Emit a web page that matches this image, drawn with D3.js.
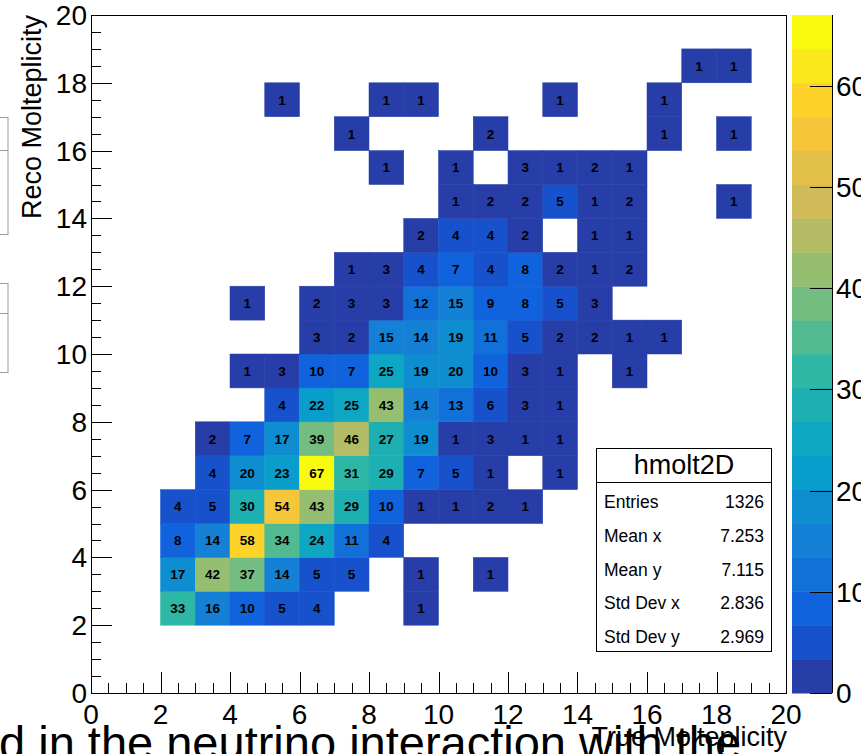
<!DOCTYPE html>
<meta charset='utf-8'>
<style>
  body { margin: 0; background: #fff; }
  svg { display: block; font-family: 'Liberation Sans', Arial, sans-serif; }
  .cell-text { font-size: 13.5px; font-weight: bold; fill: #000; }
  .tick-label { font-size: 28px; fill: #000; }
  .axis-title { font-size: 27px; fill: #000; }
</style>
<body>
<script src='https://d3js.org/d3.v7.min.js'></script>
<script>
  // bin contents, counts[j][i] = entries in x bin [i,i+1), y bin [j,j+1)
  const counts = [
    /* y 0 */ [0,0,0,0,0,0,0,0,0,0,0,0,0,0,0,0,0,0,0,0],
    /* y 1 */ [0,0,0,0,0,0,0,0,0,0,0,0,0,0,0,0,0,0,0,0],
    /* y 2 */ [0,0,33,16,10,5,4,0,0,1,0,0,0,0,0,0,0,0,0,0],
    /* y 3 */ [0,0,17,42,37,14,5,5,0,1,0,1,0,0,0,0,0,0,0,0],
    /* y 4 */ [0,0,8,14,58,34,24,11,4,0,0,0,0,0,0,0,0,0,0,0],
    /* y 5 */ [0,0,4,5,30,54,43,29,10,1,1,2,1,0,0,0,0,0,0,0],
    /* y 6 */ [0,0,0,4,20,23,67,31,29,7,5,1,0,1,0,0,0,0,0,0],
    /* y 7 */ [0,0,0,2,7,17,39,46,27,19,1,3,1,1,0,0,0,0,0,0],
    /* y 8 */ [0,0,0,0,0,4,22,25,43,14,13,6,3,1,0,0,0,0,0,0],
    /* y 9 */ [0,0,0,0,1,3,10,7,25,19,20,10,3,1,0,1,0,0,0,0],
    /* y10 */ [0,0,0,0,0,0,3,2,15,14,19,11,5,2,2,1,1,0,0,0],
    /* y11 */ [0,0,0,0,1,0,2,3,3,12,15,9,8,5,3,0,0,0,0,0],
    /* y12 */ [0,0,0,0,0,0,0,1,3,4,7,4,8,2,1,2,0,0,0,0],
    /* y13 */ [0,0,0,0,0,0,0,0,0,2,4,4,2,0,1,1,0,0,0,0],
    /* y14 */ [0,0,0,0,0,0,0,0,0,0,1,2,2,5,1,2,0,0,1,0],
    /* y15 */ [0,0,0,0,0,0,0,0,1,0,1,0,3,1,2,1,0,0,0,0],
    /* y16 */ [0,0,0,0,0,0,0,1,0,0,0,2,0,0,0,0,1,0,1,0],
    /* y17 */ [0,0,0,0,0,1,0,0,1,1,0,0,0,1,0,0,1,0,0,0],
    /* y18 */ [0,0,0,0,0,0,0,0,0,0,0,0,0,0,0,0,0,1,1,0],
    /* y19 */ [0,0,0,0,0,0,0,0,0,0,0,0,0,0,0,0,0,0,0,0]
  ]

  const axisTicks = [0, 2, 4, 6, 8, 10, 12, 14, 16, 18, 20]
  const zTicks = [0, 10, 20, 30, 40, 50, 60]
  const zMax = 67
  const nLevels = 20

  const statTitle = 'hmolt2D'
  const statNames = ['Entries', 'Mean x', 'Mean y', 'Std Dev x', 'Std Dev y']
  const statValues = ['1326', '7.253', '7.115', '2.836', '2.969']

  const xTitle = 'True Molteplicity'
  const yTitle = 'Reco Molteplicity'
  const pageText = 'd in the neutrino interaction with the'

  // ROOT kBird palette
  const birdStops = [0.0, 0.125, 0.25, 0.375, 0.5, 0.625, 0.75, 0.875, 1.0]
  const birdR = [0.2082, 0.0592, 0.0780, 0.0232, 0.1802, 0.5301, 0.8186, 0.9956, 0.9764]
  const birdG = [0.1664, 0.3599, 0.5041, 0.6419, 0.7178, 0.7492, 0.7328, 0.7862, 0.9832]
  const birdB = [0.5293, 0.8684, 0.8385, 0.7914, 0.6425, 0.4662, 0.3499, 0.1968, 0.0539]
  const toByte = v => Math.round(v * 255)
  const bird = t => {
    const s = d3.scaleLinear().domain(birdStops).clamp(true)
    const r = s.copy().range(birdR)(t), g = s.copy().range(birdG)(t), b = s.copy().range(birdB)(t)
    return `rgb(${toByte(r)},${toByte(g)},${toByte(b)})`
  }
  const levelColors = d3.range(nLevels).map(i => bird(Math.floor((i + 0.99) * 255 / nLevels) / 254))
  const zLevel = d3.scaleQuantize().domain([0, zMax]).range(d3.range(nLevels))
  const color = v => levelColors[Math.min(nLevels - 1, zLevel(v))]

  const W = 861, H = 754
  const frame = {left: 91, right: 786, top: 15, bottom: 693}

  const x = d3.scaleLinear().domain([0, 20]).range([frame.left, frame.right])
  const y = d3.scaleLinear().domain([0, 20]).range([frame.bottom, frame.top])
  const z = d3.scaleLinear().domain([0, zMax]).range([frame.bottom, frame.top])

  const svg = d3.select('body').append('svg')
    .attr('width', W)
    .attr('height', H)

  // bits of the document behind the canvas
  const bg = svg.append('g').attr('fill', 'none').attr('stroke', '#9a9a9a').attr('stroke-width', 1)
  bg.append('rect').attr('x', -2).attr('y', 117.5).attr('width', 10).attr('height', 117)
  bg.append('line').attr('x1', 0).attr('x2', 8).attr('y1', 150.5).attr('y2', 150.5)
  bg.append('rect').attr('x', -2).attr('y', 283.5).attr('width', 10).attr('height', 89)
  bg.append('line').attr('x1', 0).attr('x2', 8).attr('y1', 313.5).attr('y2', 313.5)

  // cells
  const cells = []
  counts.forEach((row, j) => row.forEach((v, i) => { if (v > 0) cells.push({i, j, v}) }))

  svg.append('g').selectAll('rect')
    .data(cells)
    .join('rect')
    .attr('x', d => x(d.i))
    .attr('y', d => y(d.j + 1))
    .attr('width', d => x(d.i + 1) - x(d.i))
    .attr('height', d => y(d.j) - y(d.j + 1))
    .attr('fill', d => color(d.v))
    .attr('stroke', d => color(d.v))
    .attr('stroke-width', 0.5)

  svg.append('g').selectAll('text')
    .data(cells)
    .join('text')
    .attr('class', 'cell-text')
    .attr('x', d => x(d.i + 0.5))
    .attr('y', d => y(d.j + 0.5))
    .attr('dy', '0.36em')
    .attr('text-anchor', 'middle')
    .text(d => d.v)

  // frame
  svg.append('rect')
    .attr('x', frame.left + 0.5)
    .attr('y', frame.top + 0.5)
    .attr('width', frame.right - frame.left)
    .attr('height', frame.bottom - frame.top)
    .attr('fill', 'none')
    .attr('stroke', '#000')

  // axes with ROOT style inside ticks
  const minor = d3.range(0, 20.01, 0.5)
  const ticks = svg.append('g').attr('stroke', '#000').attr('stroke-width', 1)
  ticks.selectAll('.xt').data(minor).join('line')
    .attr('x1', d => Math.round(x(d)) + 0.5)
    .attr('x2', d => Math.round(x(d)) + 0.5)
    .attr('y1', frame.bottom)
    .attr('y2', d => frame.bottom - (d % 2 === 0 ? 21 : 10))
  ticks.selectAll('.yt').data(minor).join('line')
    .attr('y1', d => Math.round(y(d)) + 0.5)
    .attr('y2', d => Math.round(y(d)) + 0.5)
    .attr('x1', frame.left)
    .attr('x2', d => frame.left + (d % 2 === 0 ? 21 : 10))

  svg.append('g').selectAll('text')
    .data(axisTicks)
    .join('text')
    .attr('class', 'tick-label')
    .attr('x', d => x(d))
    .attr('y', 724)
    .attr('text-anchor', 'middle')
    .text(d => d)

  svg.append('g').selectAll('text')
    .data(axisTicks)
    .join('text')
    .attr('class', 'tick-label')
    .attr('x', 87)
    .attr('y', d => y(d))
    .attr('dy', '0.36em')
    .attr('text-anchor', 'end')
    .text(d => d)

  svg.append('text')
    .attr('class', 'axis-title')
    .attr('transform', `translate(41, ${frame.top}) rotate(-90)`)
    .attr('text-anchor', 'end')
    .text(yTitle)

  // palette
  const bar = {left: 792, right: 832}
  svg.append('g').selectAll('rect')
    .data(levelColors)
    .join('rect')
    .attr('x', bar.left)
    .attr('y', (d, i) => z((i + 1) * zMax / nLevels))
    .attr('width', bar.right - bar.left)
    .attr('height', z(0) - z(zMax / nLevels) + 0.5)
    .attr('fill', d => d)

  svg.append('line')
    .attr('x1', bar.right + 0.5).attr('x2', bar.right + 0.5)
    .attr('y1', frame.top).attr('y2', frame.bottom)
    .attr('stroke', '#000')

  svg.append('g').selectAll('line')
    .data(zTicks)
    .join('line')
    .attr('x1', bar.right - 22)
    .attr('x2', bar.right)
    .attr('y1', d => Math.round(z(d)) + 0.5)
    .attr('y2', d => Math.round(z(d)) + 0.5)
    .attr('stroke', '#000')

  svg.append('g').selectAll('text')
    .data(zTicks)
    .join('text')
    .attr('class', 'tick-label')
    .attr('x', 836)
    .attr('y', d => z(d))
    .attr('dy', '0.36em')
    .text(d => d)

  // stats box
  const box = {left: 596.5, top: 448.5, width: 175, height: 203}
  const stats = svg.append('g')
  stats.append('rect')
    .attr('x', box.left).attr('y', box.top)
    .attr('width', box.width).attr('height', box.height)
    .attr('fill', '#fff').attr('stroke', '#000')
  stats.append('line')
    .attr('x1', box.left).attr('x2', box.left + box.width)
    .attr('y1', 482.5).attr('y2', 482.5)
    .attr('stroke', '#000')
  stats.append('text')
    .attr('x', box.left + box.width / 2)
    .attr('y', 474)
    .attr('text-anchor', 'middle')
    .style('font-size', '27px')
    .text(statTitle)
  const statY = d3.scalePoint().domain(statNames).range([508, 643])
  stats.selectAll('.sn').data(statNames).join('text')
    .attr('x', 604)
    .attr('y', d => statY(d))
    .style('font-size', '17.5px')
    .text(d => d)
  stats.selectAll('.sv').data(statValues).join('text')
    .attr('x', 764)
    .attr('y', (d, i) => statY(statNames[i]))
    .attr('text-anchor', 'end')
    .style('font-size', '17.5px')
    .text(d => d)

  svg.append('text')
    .attr('class', 'axis-title')
    .attr('x', 787)
    .attr('y', 746)
    .attr('text-anchor', 'end')
    .text(xTitle)

  svg.append('text')
    .attr('x', -1)
    .attr('y', 759)
    .style('font-size', '47px')
    .text(pageText)
</script>
</body>
